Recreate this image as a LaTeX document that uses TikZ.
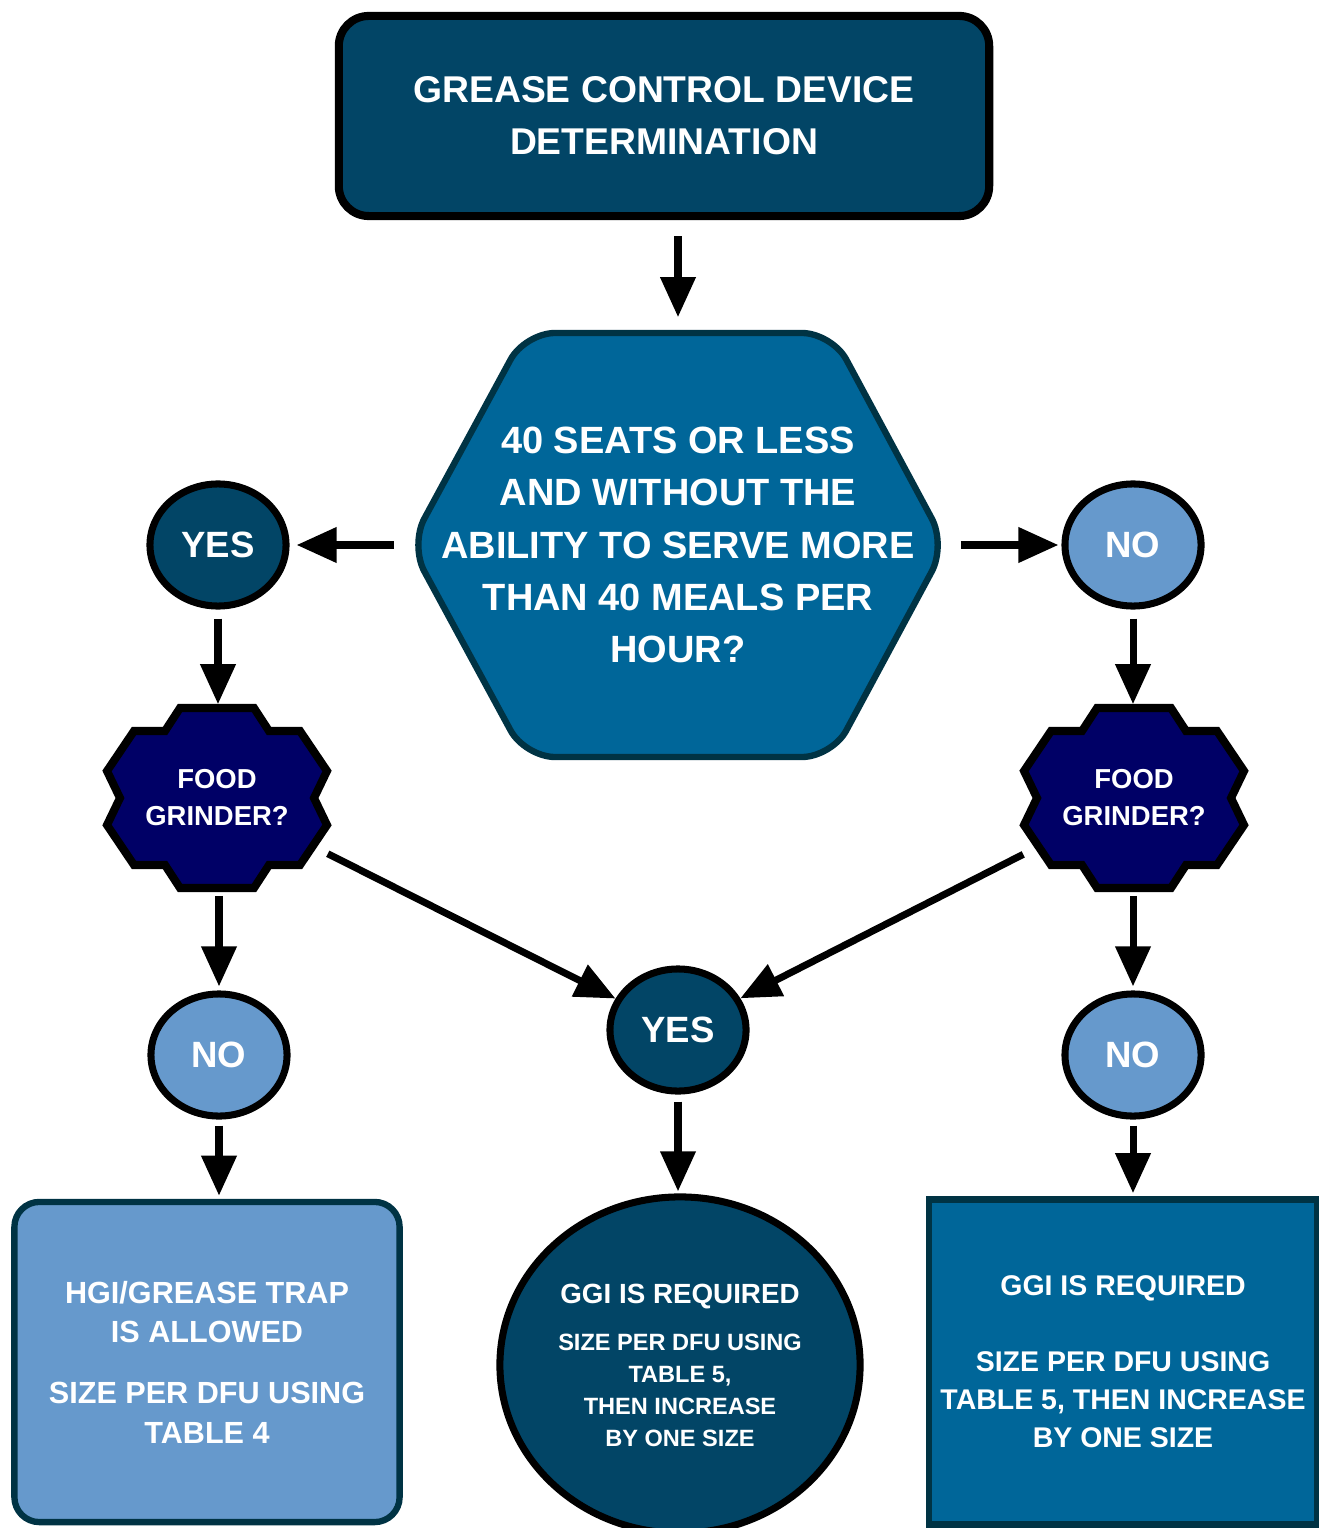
\documentclass[tikz,border=0pt]{standalone}
\usepackage{fontspec}
\setmainfont{Liberation Sans}
\usetikzlibrary{shapes.geometric,arrows.meta}

\definecolor{deepteal}{HTML}{024566}
\definecolor{midblue}{HTML}{006699}
\definecolor{paleblue}{HTML}{6699CC}
\definecolor{navyfill}{HTML}{000066}
\definecolor{rimdark}{HTML}{003344}

\tikzset{
	arr/.style={line width=2pt,-{Triangle[length=0.4cm,width=0.34cm]}},
	txt/.style={text=white,align=center,inner sep=0pt},
	yesnode/.style={txt,ellipse,draw=black,line width=2pt,fill=deepteal,minimum width=1.36cm,minimum height=1.22cm,font=\bfseries\fontsize{10.4}{12}\selectfont},
	nonode/.style={yesnode,fill=paleblue},
	grindtext/.style={txt,minimum width=2.2cm,minimum height=1.8cm,font=\bfseries\fontsize{7.8}{10.5}\selectfont},
	grindline/.style={draw=black,line width=2.3pt,fill=navyfill},
}

\begin{document}
\begin{tikzpicture}[x=0.01cm,y=-0.01cm]
				\useasboundingbox (0,0) rectangle (1319,1528);
				% title and first question
				\node[txt,draw=black,line width=2.3pt,fill=deepteal,rounded corners=0.3cm,minimum width=6.5cm,minimum height=2cm,font=\bfseries\fontsize{10.6}{14.8}\selectfont] (start) at (664,116) {GREASE CONTROL DEVICE\\DETERMINATION};
				\draw[draw=rimdark,line width=1.8pt,fill=midblue,rounded corners=0.3cm] (678,333) -- (832,333) -- (946,545) -- (832,757) -- (525,757) -- (410,545) -- (525,333) -- cycle;
				\node[txt,minimum width=5.36cm,minimum height=4.24cm,font=\bfseries\fontsize{10.8}{14.9}\selectfont] (seats) at (678,545) {40 SEATS OR LESS\\AND WITHOUT THE\\ABILITY TO SERVE MORE\\THAN 40 MEALS PER\\HOUR?};
				% food grinder shapes
				\foreach \cx in {217,1134}
					\draw[grindline,shift={(\cx,798)}] (0,-90) -- (37,-90) -- (52,-67) -- (83,-67) -- (110,-27) -- (97,0) -- (110,27) -- (83,67) -- (52,67) -- (37,90) -- (-37,90) -- (-52,67) -- (-83,67) -- (-110,27) -- (-97,0) -- (-110,-27) -- (-83,-67) -- (-52,-67) -- (-37,-90) -- cycle;
				\node[grindtext] (g1) at (217,798) {FOOD\\GRINDER?};
				\node[grindtext] (g2) at (1134,798) {FOOD\\GRINDER?};
				% answers
				\node[yesnode] (yes1) at (218,545) {YES};
				\node[nonode] (no1) at (1133,545) {NO};
				\node[nonode] (no2) at (219,1055) {NO};
				\node[yesnode] (yes2) at (678,1030) {YES};
				\node[nonode] (no3) at (1133,1055) {NO};
				% results
				\node[txt,draw=rimdark,line width=1.8pt,fill=paleblue,rounded corners=0.25cm,minimum width=3.85cm,minimum height=3.2cm,font=\bfseries\fontsize{8.7}{11.2}\selectfont] (trap) at (207,1362) {HGI/GREASE TRAP\\IS ALLOWED\\[0.22cm]SIZE PER DFU USING\\TABLE 4};
				\node[txt,ellipse,draw=black,line width=2pt,fill=deepteal,minimum width=3.6cm,minimum height=3.36cm,font=\bfseries\fontsize{6.7}{9.1}\selectfont] (ggi) at (680,1365) {{\fontsize{7.9}{9}\selectfont GGI IS REQUIRED}\\[0.15cm]SIZE PER DFU USING\\TABLE 5,\\THEN INCREASE\\BY ONE SIZE};
				\node[txt,draw=rimdark,line width=1.8pt,fill=midblue,minimum width=3.88cm,minimum height=3.25cm,font=\bfseries\fontsize{8.1}{10.8}\selectfont] (ggir) at (1123,1362) {GGI IS REQUIRED\\[0.38cm]SIZE PER DFU USING\\TABLE 5, THEN INCREASE\\BY ONE SIZE};
				% arrows
				\draw[arr,shorten <=0.16cm,shorten >=0.15cm] (start.south -| seats.north) -- (seats.north);
				\draw[arr,shorten <=0.15cm,shorten >=0.07cm] (seats.west) -- (yes1.east);
				\draw[arr,shorten <=0.14cm,shorten >=0.03cm] (seats.east) -- (no1.west);
				\draw[arr,shorten <=0.09cm,shorten >=0.03cm] (yes1.south) -- (yes1.south |- g1.north);
				\draw[arr,shorten <=0.09cm,shorten >=0.03cm] (no1.south) -- (no1.south |- g2.north);
				\draw[arr,shorten <=0.07cm,shorten >=0.04cm] (no2.north |- g1.south) -- (no2.north);
				\draw[arr,shorten <=0.07cm,shorten >=0.04cm] (no3.north |- g2.south) -- (no3.north);
				\draw[arr] (g1) -- (yes2);
				\draw[arr] (g2) -- (yes2);
				\draw[arr,shorten <=0.06cm,shorten >=0.03cm] (no2.south) -- (no2.south |- trap.north);
				\draw[arr,shorten <=0.07cm,shorten >=0.02cm] (yes2.south) -- (yes2.south |- ggi.north);
				\draw[arr,shorten <=0.06cm,shorten >=0.03cm] (no3.south) -- (no3.south |- ggir.north);
\end{tikzpicture}
\end{document}
